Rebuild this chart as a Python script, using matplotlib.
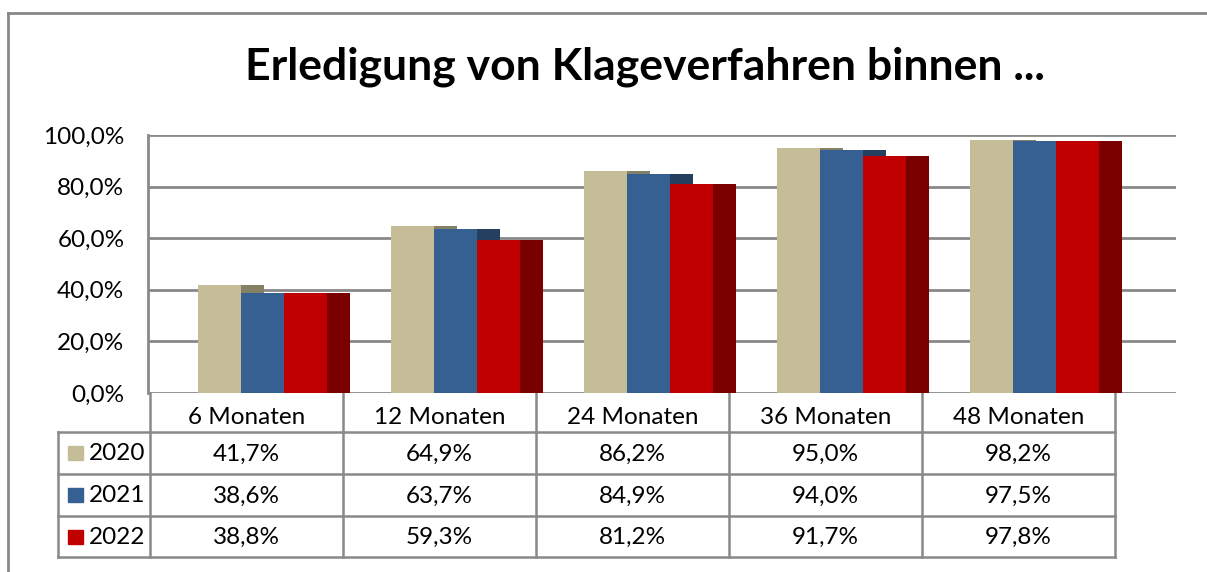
import numpy as np
import matplotlib
matplotlib.use("Agg")
import matplotlib.pyplot as plt

plt.rcParams['font.family'] = ['Lato', 'DejaVu Sans']

categories = ['6 Monaten', '12 Monaten', '24 Monaten', '36 Monaten', '48 Monaten']
years = ['2020', '2021', '2022']
v2020 = [41.7, 64.9, 86.2, 95.0, 98.2]
v2021 = [38.6, 63.7, 84.9, 94.0, 97.5]
v2022 = [38.8, 59.3, 81.2, 91.7, 97.8]
series = [v2020, v2021, v2022]
yticks = [0, 20, 40, 60, 80, 100]

front = ['#C4BD97', '#376092', '#C00000']
side = ['#858166', '#243F60', '#7A0000']
grid_c = '#898989'
fs = 17.5

W, H = 1207, 572
fig = plt.figure(figsize=(W / 100, H / 100), dpi=100)

# overlay in pixel coords for frame / title / table
ov = fig.add_axes([0, 0, 1, 1])
ov.set_xlim(0, W)
ov.set_ylim(H, 0)
ov.axis('off')

# plot area
x0, x1, ytop, ybot = 148, 1176, 135, 393
cat0, catw = 150, 193
ax = fig.add_axes([x0 / W, 1 - ybot / H, (x1 - x0) / W, (ybot - ytop) / H])
ax.set_xlim((x0 - cat0) / catw, (x1 - cat0) / catw)
ax.set_ylim(0, 100)
ax.patch.set_alpha(0)

# front face + darker side face, each side hidden behind the next bar
bw, off, depth = 0.2228, 0.25, 0.1176
xs = np.arange(len(categories))
for j, vals in enumerate(series):
    left = xs + off + j * bw
    ax.bar(left + bw, vals, width=depth, align='edge', color=side[j],
           zorder=2 + 2 * j, linewidth=0)
    ax.bar(left, vals, width=bw, align='edge', color=front[j],
           zorder=3 + 2 * j, linewidth=0)

ax.set_yticks(yticks)
ax.set_yticklabels(['{:.1f}%'.format(t).replace('.', ',') for t in yticks],
                   fontsize=fs)
ax.tick_params(axis='y', length=0, pad=17)
ax.set_xticks([])
for t in yticks:
    ax.axhline(t, color=grid_c, lw=2, zorder=1)
for s in ['top', 'right', 'bottom']:
    ax.spines[s].set_visible(False)
ax.spines['left'].set_color(grid_c)
ax.spines['left'].set_linewidth(2)

# outer frame
ov.plot([8, 8], [13, H], color=grid_c, lw=2)
ov.plot([8, W], [13, 13], color=grid_c, lw=2)

# title
ov.text(645, 67, 'Erledigung von Klageverfahren binnen ...', ha='center',
        va='center', fontsize=32, fontweight='bold', color='black')

# data table
rows_y = [393, 432, 474, 516, 557]
tab_right = cat0 + catw * len(categories)
leg_left = 58
for k in range(len(categories) + 1):
    xc = cat0 + catw * k
    ov.plot([xc, xc], [rows_y[0], rows_y[-1]], color=grid_c, lw=1.8)
for y in rows_y[1:]:
    ov.plot([leg_left, tab_right], [y, y], color=grid_c, lw=1.8)
ov.plot([leg_left, leg_left], [rows_y[1], rows_y[-1]], color=grid_c, lw=1.8)

for i, c in enumerate(categories):
    ov.text(cat0 + catw * (i + 0.5), (rows_y[0] + rows_y[1]) / 2 + 5, c,
            ha='center', va='center', fontsize=fs)
for j, vals in enumerate(series):
    yc = (rows_y[j + 1] + rows_y[j + 2]) / 2
    ov.add_patch(plt.Rectangle((68, yc - 7), 15, 14, color=front[j]))
    ov.text(89, yc + 1, years[j], ha='left', va='center', fontsize=fs)
    for i, v in enumerate(vals):
        ov.text(cat0 + catw * (i + 0.5), yc + 1,
                '{:.1f}%'.format(v).replace('.', ','),
                ha='center', va='center', fontsize=fs)

fig.savefig('out.png', dpi=100)
